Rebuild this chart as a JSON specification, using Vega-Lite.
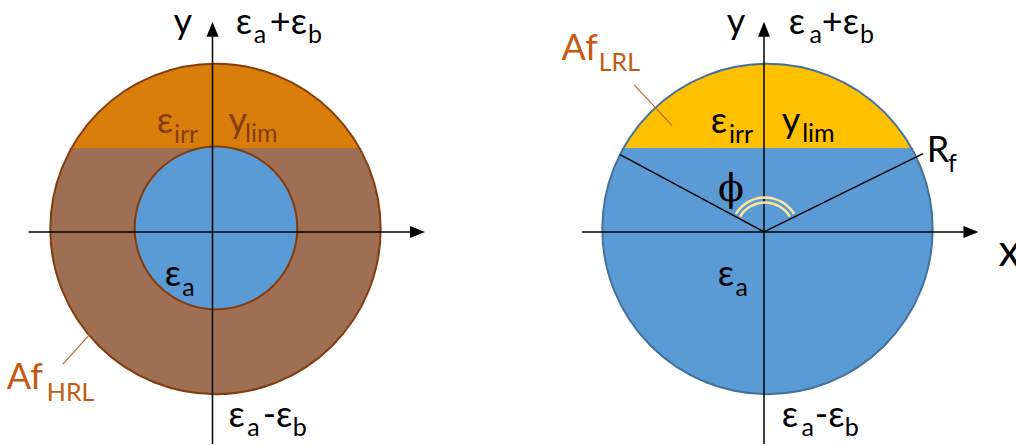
{
  "$schema": "https://vega.github.io/schema/vega-lite/v6.json",
  "width": 1016,
  "height": 445,
  "autosize": {"type": "fit", "contains": "padding"},
  "padding": 0,
  "background": "white",
  "config": {"view": {"stroke": null}, "axis": {"disable": true}, "legend": {"disable": true}},
  "datasets": {
    "discs": [
      {"part": "ring", "x": 1.8, "y": 1.8, "r": 99.5},
      {"part": "disc", "x": 334.3, "y": 1.8, "r": 99.5}
    ],
    "caps": [
      {"part": "capL", "x": 1.8, "y": 1.8, "r": 99.5},
      {"part": "capR", "x": 334.3, "y": 1.8, "r": 99.5}
    ],
    "triangles": [
      {"part": "ring", "x": -85.1, "y": 50.3, "y2": 50.3},
      {"part": "ring", "x": 1.8, "y": 50.3, "y2": 1.8},
      {"part": "ring", "x": 88.7, "y": 50.3, "y2": 50.3},
      {"part": "disc", "x": 247.4, "y": 50.3, "y2": 50.3},
      {"part": "disc", "x": 334.3, "y": 50.3, "y2": 1.8},
      {"part": "disc", "x": 421.2, "y": 50.3, "y2": 50.3}
    ],
    "cores": [
      {"part": "core", "x": 2.1, "y": 2.4, "r": 49}
    ],
    "bands": [
      {"part": "angle", "x": 332.8, "y": 0.3, "r": 21.2, "r2": 19.7},
      {"part": "angle", "x": 332.8, "y": 0.3, "r": 18.2, "r2": 16.7}
    ],
    "edges": [
      {"part": "edgeL", "x": 1.8, "y": 1.8, "r": 99.5},
      {"part": "edgeR", "x": 334.3, "y": 1.8, "r": 99.5}
    ],
    "lines": [
      {"part": "ink", "x": 0, "y": -128, "x2": 0, "y2": 118},
      {"part": "ink", "x": -110.8, "y": 0, "x2": 119, "y2": 0},
      {"part": "ink", "x": 332.2, "y": -128, "x2": 332.2, "y2": 118},
      {"part": "ink", "x": 222.6, "y": 0, "x2": 453.3, "y2": 0},
      {"part": "ink", "x": 332.2, "y": 0, "x2": 245.5, "y2": 46.7},
      {"part": "ink", "x": 332.2, "y": 0, "x2": 428.0, "y2": 47.3}
    ],
    "pointers": [
      {"part": "pointer", "x": -90.1, "y": -79.8, "x2": -59.3, "y2": -45.5},
      {"part": "pointer", "x": 253.9, "y": 88.9, "x2": 276.8, "y2": 64.2}
    ],
    "arrowsUp": [
      {"part": "ink", "x": 0, "y": 122.3},
      {"part": "ink", "x": 332.2, "y": 122.3}
    ],
    "arrowsRight": [
      {"part": "ink", "x": 123.5, "y": 0},
      {"part": "ink", "x": 456.9, "y": 0}
    ],
    "mainText": [
      {"t": "y", "x": -23.5, "y": 119.2, "part": "ink"},
      {"t": "ε", "x": 14.0, "y": 119.2, "part": "ink"},
      {"t": "+ε", "x": 34.5, "y": 119.2, "part": "ink"},
      {"t": "ε", "x": -33.6, "y": 59.9, "part": "rust"},
      {"t": "y", "x": 9.7, "y": 59.9, "part": "rust"},
      {"t": "ε", "x": -28.8, "y": -32.8, "part": "ink"},
      {"t": "Af", "x": -124.0, "y": -94.9, "part": "orange"},
      {"t": "ε", "x": 9.7, "y": -117.8, "part": "ink"},
      {"t": "-ε", "x": 30.2, "y": -117.8, "part": "ink"},
      {"t": "y", "x": 309.7, "y": 119.2, "part": "ink"},
      {"t": "ε", "x": 347.1, "y": 119.2, "part": "ink"},
      {"t": "+ε", "x": 367.0, "y": 119.2, "part": "ink"},
      {"t": "Af", "x": 210.3, "y": 103.9, "part": "orange"},
      {"t": "ε", "x": 300.1, "y": 59.9, "part": "ink"},
      {"t": "y", "x": 342.9, "y": 59.9, "part": "ink"},
      {"t": "R", "x": 430.2, "y": 42.5, "part": "ink"},
      {"t": "ε", "x": 304.3, "y": -32.8, "part": "ink"},
      {"t": "ε", "x": 342.9, "y": -117.8, "part": "ink"},
      {"t": "-ε", "x": 362.8, "y": -117.8, "part": "ink"}
    ],
    "axisName": [
      {"t": "x", "x": 473.4, "y": -20.8, "part": "ink"}
    ],
    "subText": [
      {"t": "a", "x": 24.8, "y": 113.8, "part": "ink"},
      {"t": "b", "x": 57.6, "y": 113.8, "part": "ink"},
      {"t": "irr", "x": -23.2, "y": 53.9, "part": "rust"},
      {"t": "lim", "x": 19.6, "y": 54.5, "part": "rust"},
      {"t": "a", "x": -18.2, "y": -38.6, "part": "ink"},
      {"t": "HRL", "x": -99.8, "y": -102.1, "part": "orange"},
      {"t": "a", "x": 21.0, "y": -123.2, "part": "ink"},
      {"t": "b", "x": 48.4, "y": -123.2, "part": "ink"},
      {"t": "a", "x": 359.6, "y": 113.8, "part": "ink"},
      {"t": "b", "x": 390.0, "y": 113.8, "part": "ink"},
      {"t": "LRL", "x": 232.6, "y": 97.3, "part": "orange"},
      {"t": "irr", "x": 311.1, "y": 53.9, "part": "ink"},
      {"t": "lim", "x": 355.2, "y": 54.5, "part": "ink"},
      {"t": "f", "x": 443.0, "y": 36.4, "part": "ink"},
      {"t": "a", "x": 315.0, "y": -38.6, "part": "ink"},
      {"t": "a", "x": 354.8, "y": -123.2, "part": "ink"},
      {"t": "b", "x": 380.9, "y": -123.2, "part": "ink"}
    ],
    "phiText": [
      {"t": "ϕ", "x": 312.3, "y": 25.6, "part": "ink"}
    ]
  },
  "encoding": {
    "x": {"field": "x", "type": "quantitative", "scale": {"domain": [-128, 484], "nice": false, "zero": false}},
    "y": {"field": "y", "type": "quantitative", "scale": {"domain": [-128, 140], "nice": false, "zero": false}}
  },
  "layer": [
    {
      "data": {"name": "discs"},
      "mark": {"type": "arc", "theta": 0, "theta2": 6.2832},
      "encoding": {
        "radius": {"field": "r", "type": "quantitative", "stack": null, "scale": {"type": "linear", "domain": [0, 100], "range": [0, 166], "zero": true}},
        "color": {"field": "part", "type": "nominal", "scale": {"domain": ["ring", "capL", "core", "disc", "capR", "angle", "edgeL", "edgeR", "ink", "rust", "orange", "pointer"], "range": ["#9E6F52", "#D97E0B", "#5B9BD5", "#5B9BD5", "#FFC000", "#FFE699", "#843C0C", "#41719C", "#000000", "#843C0C", "#C55A11", "#B8693A"]}}
      }
    },
    {
      "data": {"name": "caps"},
      "mark": {"type": "arc", "theta": -1.0617, "theta2": 1.0617},
      "encoding": {
        "radius": {"field": "r", "type": "quantitative", "stack": null},
        "color": {"field": "part", "type": "nominal"}
      }
    },
    {
      "data": {"name": "triangles"},
      "mark": {"type": "area", "strokeWidth": 1.2},
      "encoding": {
        "y2": {"field": "y2"},
        "color": {"field": "part", "type": "nominal"},
        "stroke": {"field": "part", "type": "nominal", "scale": {"domain": ["ring", "capL", "core", "disc", "capR", "angle", "edgeL", "edgeR", "ink", "rust", "orange", "pointer"], "range": ["#9E6F52", "#D97E0B", "#843C0C", "#5B9BD5", "#FFC000", "#FFE699", "#843C0C", "#41719C", "#000000", "#843C0C", "#C55A11", "#B8693A"]}}
      }
    },
    {
      "data": {"name": "cores"},
      "mark": {"type": "arc", "theta": 0, "theta2": 6.2832, "strokeWidth": 2},
      "encoding": {
        "radius": {"field": "r", "type": "quantitative", "stack": null},
        "color": {"field": "part", "type": "nominal"},
        "stroke": {"field": "part", "type": "nominal"}
      }
    },
    {
      "data": {"name": "edges"},
      "mark": {"type": "arc", "theta": 0, "theta2": 6.2832, "fillOpacity": 0, "strokeWidth": 2},
      "encoding": {
        "radius": {"field": "r", "type": "quantitative", "stack": null},
        "stroke": {"field": "part", "type": "nominal"}
      }
    },
    {
      "data": {"name": "lines"},
      "mark": {"type": "rule", "strokeWidth": 1.5},
      "encoding": {
        "x2": {"field": "x2"},
        "y2": {"field": "y2"},
        "color": {"field": "part", "type": "nominal"}
      }
    },
    {
      "data": {"name": "bands"},
      "mark": {"type": "arc", "theta": -1.03, "theta2": 1.03},
      "encoding": {
        "radius": {"field": "r", "type": "quantitative", "stack": null},
        "radius2": {"field": "r2"},
        "color": {"field": "part", "type": "nominal"}
      }
    },
    {
      "data": {"name": "pointers"},
      "mark": {"type": "rule", "strokeWidth": 1.2},
      "encoding": {
        "x2": {"field": "x2"},
        "y2": {"field": "y2"},
        "color": {"field": "part", "type": "nominal"}
      }
    },
    {
      "data": {"name": "arrowsUp"},
      "mark": {"type": "point", "filled": true, "opacity": 1, "size": 576, "shape": "M0,-0.625L0.5,0.625L-0.5,0.625Z"},
      "encoding": {"color": {"field": "part", "type": "nominal"}}
    },
    {
      "data": {"name": "arrowsRight"},
      "mark": {"type": "point", "filled": true, "opacity": 1, "size": 576, "shape": "M0.625,0L-0.625,0.5L-0.625,-0.5Z"},
      "encoding": {"color": {"field": "part", "type": "nominal"}}
    },
    {
      "data": {"name": "mainText"},
      "mark": {"type": "text", "align": "left", "baseline": "alphabetic", "font": "Lato", "fontSize": 36},
      "encoding": {"text": {"field": "t"}, "color": {"field": "part", "type": "nominal"}}
    },
    {
      "data": {"name": "axisName"},
      "mark": {"type": "text", "align": "left", "baseline": "alphabetic", "font": "Lato", "fontSize": 44, "clip": true},
      "encoding": {"text": {"field": "t"}, "color": {"field": "part", "type": "nominal"}}
    },
    {
      "data": {"name": "subText"},
      "mark": {"type": "text", "align": "left", "baseline": "alphabetic", "font": "Lato", "fontSize": 25},
      "encoding": {"text": {"field": "t"}, "color": {"field": "part", "type": "nominal"}}
    },
    {
      "data": {"name": "phiText"},
      "mark": {"type": "text", "align": "center", "baseline": "middle", "font": "DejaVu Serif", "fontSize": 38},
      "encoding": {"text": {"field": "t"}, "color": {"field": "part", "type": "nominal"}}
    }
  ]
}
